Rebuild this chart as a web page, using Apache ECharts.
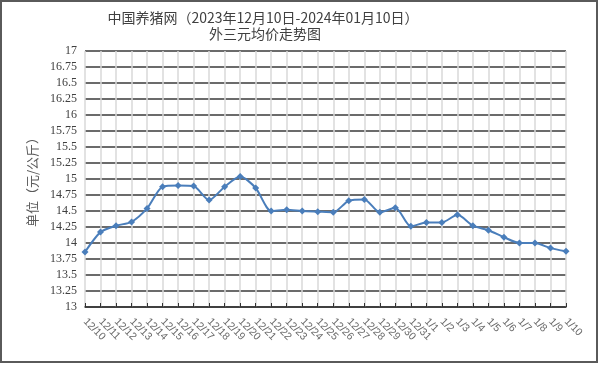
<!DOCTYPE html>
<html>
<head>
<meta charset="utf-8">
<script src="https://cdn.jsdelivr.net/npm/echarts@6/dist/echarts.min.js"></script>
<style>html,body{margin:0;padding:0;background:#fff;}#c{width:600px;height:365px;}</style>
</head>
<body>
<div id="c"></div>
<script>
const titleLine1 = '中国养猪网（2023年12月10日-2024年01月10日）';
const titleLine2 = '外三元均价走势图';
const yAxisName = '单位（元/公斤）';
const categories = ['12/10','12/11','12/12','12/13','12/14','12/15','12/16','12/17','12/18','12/19','12/20','12/21','12/22','12/23','12/24','12/25','12/26','12/27','12/28','12/29','12/30','12/31','1/1','1/2','1/3','1/4','1/5','1/6','1/7','1/8','1/9','1/10'];
const prices = [13.86,14.17,14.27,14.33,14.54,14.88,14.90,14.89,14.67,14.88,15.04,14.86,14.50,14.52,14.50,14.49,14.48,14.66,14.68,14.48,14.55,14.26,14.32,14.32,14.44,14.27,14.20,14.09,14.00,14.00,13.92,13.87];
const yMin = 13, yMax = 17, yStep = 0.25;

const chart = echarts.init(document.getElementById('c'), null, {renderer:'canvas'});
chart.setOption({
  animation:false,
  backgroundColor:'#fff',
  graphic:[
    {type:'rect', shape:{x:1,y:1,width:596,height:361}, style:{fill:'none', stroke:'#5a5a5a', lineWidth:2}},
    {type:'text', x:263, y:18, style:{text:titleLine1, fill:'#404040', font:'14px "Noto Sans CJK SC"', textAlign:'center', textVerticalAlign:'middle'}},
    {type:'text', x:265, y:34, style:{text:titleLine2, fill:'#404040', font:'14px "Noto Sans CJK SC"', textAlign:'center', textVerticalAlign:'middle'}}
  ],
  grid:{left:85, right:34, top:51, bottom:58, containLabel:false},
  xAxis:{
    type:'category', data:categories, boundaryGap:false,
    axisLine:{show:true, lineStyle:{color:'#333', width:1.5}},
    axisTick:{show:true, inside:true, length:4, lineStyle:{color:'#333'}},
    axisLabel:{rotate:-45, margin:13, interval:0, fontSize:10.5, color:'#6a6a6a', fontFamily:'"Liberation Sans", sans-serif'},
    splitLine:{show:true, lineStyle:{color:'#d9d9d9', width:1.5}}
  },
  yAxis:{
    type:'value', min:yMin, max:yMax, interval:yStep,
    name:yAxisName, nameLocation:'middle', nameGap:46, nameRotate:90,
    nameTextStyle:{fontSize:13, color:'#595959', fontFamily:'"Noto Sans CJK SC"'},
    axisLine:{show:false}, axisTick:{show:false},
    axisLabel:{margin:8, fontSize:12, color:'#404040', fontFamily:'"Liberation Serif", serif'},
    splitLine:{show:true, lineStyle:{color:'#3a3a3a', width:1.5}}
  },
  series:[{
    type:'line', data:prices, smooth:0.25,
    symbol:'diamond', symbolSize:7,
    lineStyle:{color:'#4a7ebb', width:2},
    itemStyle:{color:'#4a7ebb'}
  }]
});
</script>
</body>
</html>
